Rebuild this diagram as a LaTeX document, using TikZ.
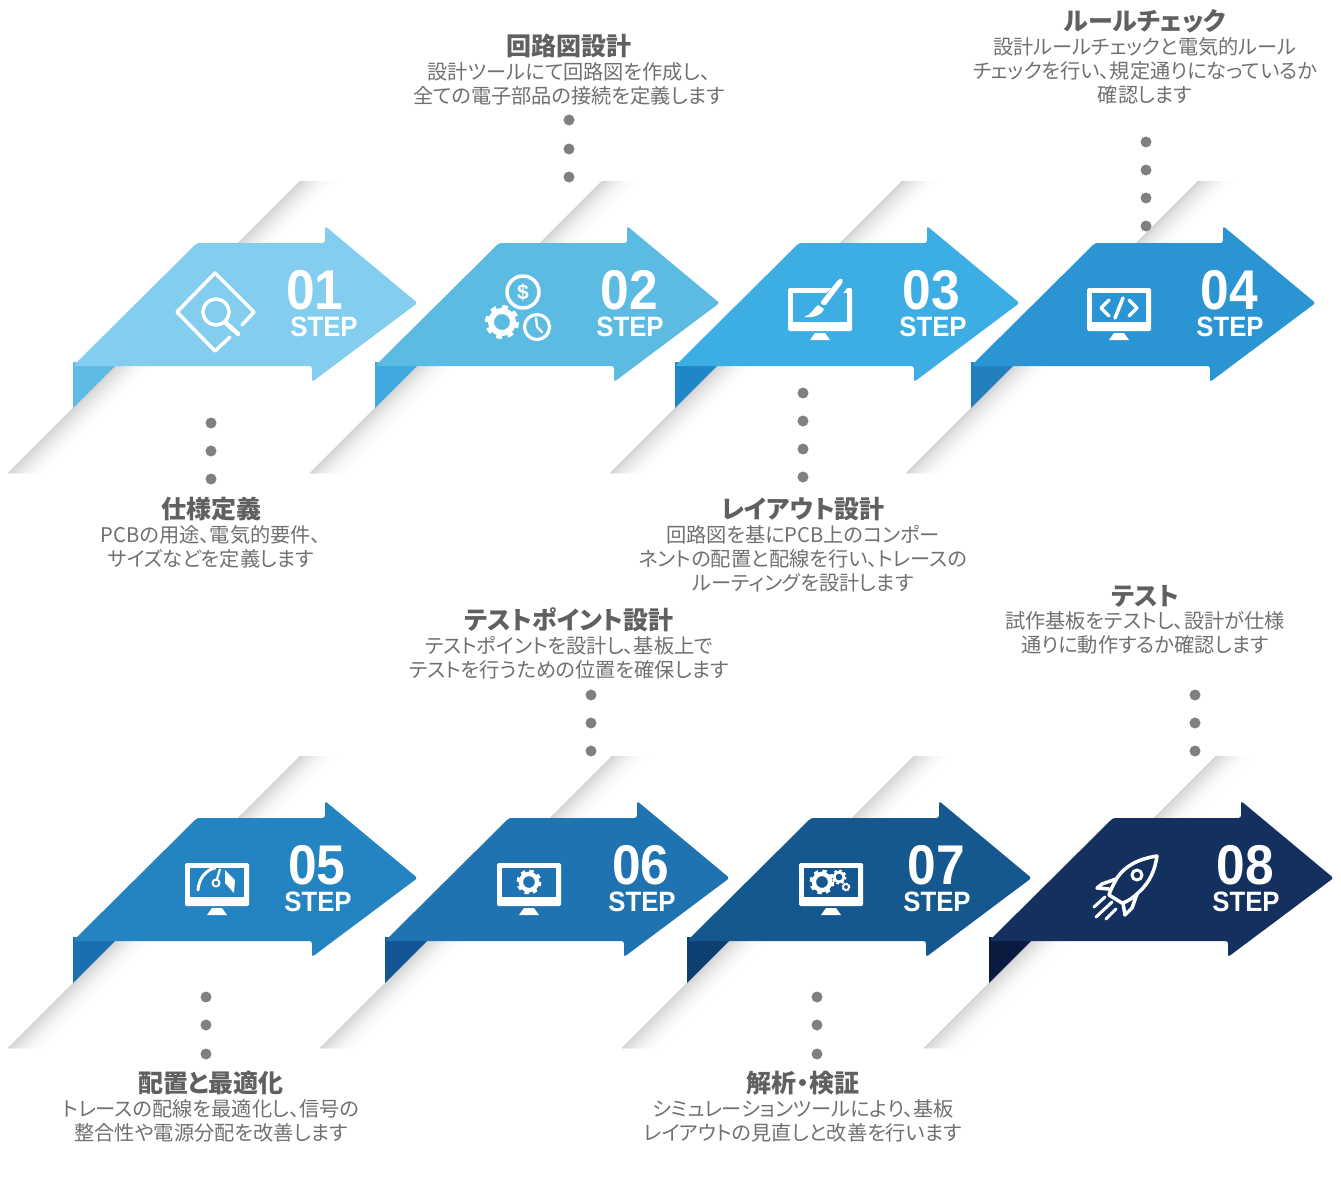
\documentclass[tikz,border=0pt]{standalone}
\usepackage{fontspec}
\setmainfont{Noto Sans CJK JP}[RawFeature={+palt}]
\newfontfamily\numfont{Liberation Sans}[BoldFont={Liberation Sans Bold}]
\definecolor{arrA}{HTML}{83CDEE}\definecolor{foldA}{HTML}{5FBBE6}
\definecolor{arrB}{HTML}{5CBBE3}\definecolor{foldB}{HTML}{3FA9DF}
\definecolor{arrC}{HTML}{3DAEE3}\definecolor{foldC}{HTML}{1F87C8}
\definecolor{arrD}{HTML}{2A95D2}\definecolor{foldD}{HTML}{2280BF}
\definecolor{arrE}{HTML}{2484C1}\definecolor{foldE}{HTML}{1A6FB0}
\definecolor{arrF}{HTML}{1F73B0}\definecolor{foldF}{HTML}{145594}
\definecolor{arrG}{HTML}{14588F}\definecolor{foldG}{HTML}{0D3F70}
\definecolor{arrH}{HTML}{14305F}\definecolor{foldH}{HTML}{0A1A40}
\definecolor{shadowgray}{HTML}{D6D6D6}
\definecolor{dotgray}{HTML}{808080}
\definecolor{titlegray}{HTML}{606060}
\definecolor{bodygray}{HTML}{707070}
\tikzset{
  x=1pt,y=-1pt,
  titletext/.style={text=titlegray,inner sep=0pt,font=\fontsize{25}{28}\selectfont\bfseries},
  bodytext/.style={text=bodygray,inner sep=0pt,align=center,font=\fontsize{20.2}{24}\selectfont},
  numtext/.style={text=white,inner sep=0pt,font=\numfont\bfseries\fontsize{56}{56}\selectfont},
  steptext/.style={text=white,inner sep=0pt,font=\numfont\bfseries\fontsize{28}{28}\selectfont},
  dotnode/.style={circle,fill=dotgray,minimum size=11pt,inner sep=0pt},
  iconline/.style={draw=white,line width=3.5pt,line cap=round,line join=round},
}
\newcommand{\ribbonshadow}[2]{%
  \begin{scope}[shift={(#1,#2)}]
    \foreach \i in {14,...,1}{%
      \pgfmathsetmacro{\w}{\i*2.8}
      \pgfmathtruncatemacro{\p}{100*((15-\i)/14)^2}
      \fill[shadowgray!\p!white] (300,181) -- (236,245) -- ++(\w,0) -- (300+\w,181) -- cycle;
      \fill[shadowgray!\p!white] (117,364) -- (8,473) -- ++(\w,0) -- (117+\w,364) -- cycle;
    }
  \end{scope}}
\newcommand{\ribbonarrow}[4]{%
  \begin{scope}[shift={(#1,#2)}]
    \fill[#4] (73,362) -- (115,366) -- (73,408) -- cycle;
    \fill[#3,rounded corners=2.5pt] (73,366) -- (197,243) -- (325,243) -- (325,226)
      -- (417.5,303) -- (312,382) -- (312,366) -- cycle;
  \end{scope}}
\newcommand{\gearicon}[3]{%
  \pgfmathsetmacro{\gra}{0.65*#3}
  \pgfmathsetmacro{\grb}{0.85*#3}
  \pgfmathsetmacro{\gon}{0.33*#3}
  \pgfmathsetmacro{\goff}{0.3376*#3}
  \draw[white,line width=0.35*#3 pt] (#1,#2) circle[radius=\gra];
  \draw[white,line width=0.3*#3 pt,dash pattern=on \gon pt off \goff pt] (#1,#2) circle[radius=\grb];}
\newcommand{\monitoricon}[3]{%
  \fill[white,rounded corners=1.5pt] (#1-32,#2) rectangle (#1+32,#2+43);
  \fill[#3] (#1-27,#2+5) rectangle (#1+27,#2+34);
  \fill[white] (#1-5,#2+45) -- (#1+5,#2+45) -- (#1+10,#2+52) -- (#1-10,#2+52) -- cycle;}
\begin{document}
\begin{tikzpicture}
\path[use as bounding box,fill=white] (0,0) rectangle (1341,1180);
\ribbonshadow{0}{0}\ribbonshadow{302}{0}\ribbonshadow{602}{0}\ribbonshadow{898}{0}
\ribbonshadow{0}{575}\ribbonshadow{312}{575}\ribbonshadow{614}{575}\ribbonshadow{916}{575}
\ribbonarrow{0}{0}{arrA}{foldA}
\ribbonarrow{302}{0}{arrB}{foldB}
\ribbonarrow{602}{0}{arrC}{foldC}
\ribbonarrow{898}{0}{arrD}{foldD}
\ribbonarrow{0}{575}{arrE}{foldE}
\ribbonarrow{312}{575}{arrF}{foldF}
\ribbonarrow{614}{575}{arrG}{foldG}
\ribbonarrow{916}{575}{arrH}{foldH}
\newcommand{\steplabel}[5]{%
  \node[numtext] (num#1) at (#2,#3) {\scalebox{.92}[1]{#1}};
  \node[steptext] (step#1) at (#4,#5) {\scalebox{.92}[1]{STEP}};}
\steplabel{01}{315}{290.5}{324}{327}
\steplabel{02}{629}{290.5}{630}{327}
\steplabel{03}{931}{290.5}{933}{327}
\steplabel{04}{1229}{290.5}{1230}{327}
\steplabel{05}{317}{865.5}{318}{902}
\steplabel{06}{641}{865.5}{642}{902}
\steplabel{07}{936}{865.5}{937}{902}
\steplabel{08}{1245}{865.5}{1246}{902}
% icon 1
\draw[iconline] (242,325) -- (254,312) -- (215,273) -- (177,312) -- (215,351) -- (230,337);
\draw[iconline] (216,312) circle[radius=13];
\draw[iconline,line width=4.5pt] (226,323) -- (238,334);
% icon 2
\draw[iconline] (523,292) circle[radius=16];
\node[text=white,inner sep=0pt,font=\numfont\bfseries\fontsize{21}{21}\selectfont] (dollar) at (523,292) {\$};
\gearicon{502}{322}{17}
\draw[iconline,line width=3.2pt] (537,327) circle[radius=12.5];
\draw[iconline,line width=2.2pt] (536,318) -- (537,327) -- (542,332);
% icon 3
\monitoricon{820}{288}{arrC}
\fill[arrC] (841,280) -- (850,284) -- (828,313) -- (815,320) -- (803,319) -- (812,306) -- cycle;
\fill[white,rounded corners=1.5pt] (838,280) -- (842,278) -- (843,282) -- (825,306) -- (820,303) -- cycle;
\fill[white] (818,305) -- (824,309) .. controls (821,316) and (812,318) .. (804,317) .. controls (811,315) and (813,309) .. (818,305) -- cycle;
% icon 4
\monitoricon{1119}{288}{arrD}
\draw[iconline] (1109,300) -- (1101,308) -- (1109,316);
\draw[iconline] (1129,300) -- (1137,308) -- (1129,316);
\draw[iconline] (1123,298) -- (1115,318);
% icon 5
\monitoricon{217}{863}{arrE}
\draw[iconline,line width=3pt] (198,890) .. controls (199,878) and (206,870) .. (215,868);
\draw[white,line width=2pt] (216,883) circle[radius=3.5];
\draw[white,line width=2.2pt] (217,879) -- (220,869);
\fill[white] (225,870) -- (235,880) -- (234,893) -- (225,883) -- cycle;
% icon 6
\monitoricon{529}{863}{arrF}
\gearicon{529}{882}{12.5}
% icon 7
\monitoricon{831}{863}{arrG}
\gearicon{822}{882}{12.5}
\gearicon{839}{877}{7.5}
\gearicon{846}{887}{4.5}
% icon 8
\draw[iconline] (1157,856) .. controls (1138,859) and (1125,866) .. (1117,878)
  .. controls (1113,885) and (1110,891) .. (1109,895) -- (1122,903)
  .. controls (1127,902) and (1133,898) .. (1139,892) .. controls (1150,882) and (1155,870) .. (1157,856) -- cycle;
\draw[iconline] (1116,879) -- (1102,884) -- (1097,888) -- (1109,889);
\draw[iconline] (1137,894) -- (1132,908) -- (1125,915) -- (1123,903);
\draw[iconline,line width=3pt] (1137,875) circle[radius=5];
\draw[iconline,line width=3pt] (1094,907) -- (1105,897);
\draw[iconline,line width=3pt] (1096,917) -- (1112,902);
\draw[iconline,line width=3pt] (1106,919) -- (1116,909);
% dots
\foreach \n/\x/\y in {a1/211/423,a2/211/451,a3/211/479,
  b1/569/120,b2/569/149,b3/569/177,
  c1/803/393,c2/803/421,c3/803/449,c4/803/477,
  d1/1146/142,d2/1146/170,d3/1146/198,d4/1146/226,
  e1/206/997,e2/206/1025,e3/206/1054,
  f1/591/695,f2/591/723,f3/591/751,
  g1/817/997,g2/817/1025,g3/817/1054,
  h1/1195/695,h2/1195/723,h3/1195/751}
  \node[dotnode] (dot\n) at (\x,\y) {};
% captions
\node[titletext] (titleA) at (211,509) {仕様定義};
\node[bodytext] (bodyA) at (211,547) {PCBの用途、電気的要件、\\サイズなどを定義します};
\node[titletext] (titleB) at (569,46) {回路図設計};
\node[bodytext] (bodyB) at (569,84) {設計ツールにて回路図を作成し、\\全ての電子部品の接続を定義します};
\node[titletext] (titleC) at (803,509) {レイアウト設計};
\node[bodytext] (bodyC) at (803,559) {回路図を基にPCB上のコンポー\\ネントの配置と配線を行い、トレースの\\ルーティングを設計します};
\node[titletext] (titleD) at (1145,21) {ルールチェック};
\node[bodytext] (bodyD) at (1145,71) {設計ルールチェックと電気的ルール\\チェックを行い、規定通りになっているか\\確認します};
\node[titletext] (titleE) at (211,1083) {配置と最適化};
\node[bodytext] (bodyE) at (211,1121) {トレースの配線を最適化し、信号の\\整合性や電源分配を改善します};
\node[titletext] (titleF) at (569,620) {テストポイント設計};
\node[bodytext] (bodyF) at (569,658) {テストポイントを設計し、基板上で\\テストを行うための位置を確保します};
\node[titletext] (titleG) at (803,1083) {解析・検証};
\node[bodytext] (bodyG) at (803,1121) {シミュレーションツールにより、基板\\レイアウトの見直しと改善を行います};
\node[titletext] (titleH) at (1145,596) {テスト};
\node[bodytext] (bodyH) at (1145,633) {試作基板をテストし、設計が仕様\\通りに動作するか確認します};
\end{tikzpicture}
\end{document}
